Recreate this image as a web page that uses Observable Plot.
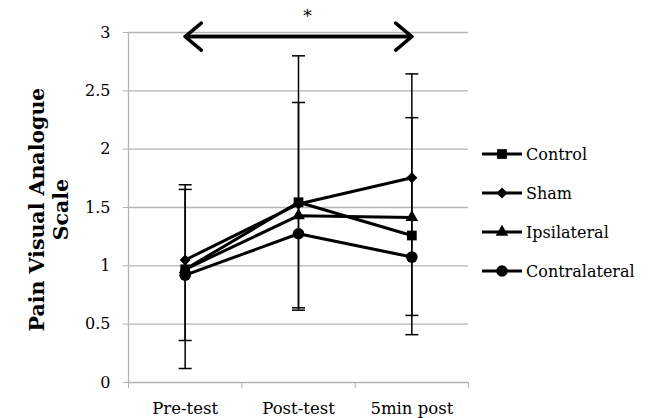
<!DOCTYPE html>
<html><head><meta charset="utf-8">
<script src="https://cdn.jsdelivr.net/npm/d3@7"></script>
<script src="https://cdn.jsdelivr.net/npm/@observablehq/plot@0.6"></script>
<style>
body{margin:0;background:#fff;}
#wrap{position:relative;width:648px;height:418px;overflow:hidden;}
#legend{position:absolute;left:482px;top:0;font-family:"DejaVu Serif",serif;font-size:16px;color:#000;}
.item{position:absolute;left:0;height:20px;display:flex;align-items:center;white-space:nowrap;}
.item svg{display:block;margin-right:4px;}
</style></head><body><div id="wrap"></div>
<script>
// ---- data ----
const categories = ["Pre-test", "Post-test", "5min post"];
const series = ["Control", "Sham", "Ipsilateral", "Contralateral"];
const control = [0.97, 1.545, 1.26];
const sham = [1.05, 1.53, 1.755];
const ipsilateral = [0.97, 1.43, 1.415];
const contralateral = [0.92, 1.275, 1.075];
// error bar extents (low, high) per category
const errALow = [0.12, 0.62, 0.41];
const errAHigh = [1.695, 2.80, 2.645];
const errBLow = [0.36, 0.64, 0.575];
const errBHigh = [1.655, 2.40, 2.27];
const yTicks = [0, 0.5, 1, 1.5, 2, 2.5, 3];
const yTitle = "Pain Visual Analogue\nScale";
const sigFrom = "Pre-test";
const sigTo = "5min post";
const sigY = 2.965;
const sigLabel = "*";

const values = [control, sham, ipsilateral, contralateral];
const symbols = ["square", "diamond2", "triangle", "circle"];
const sizes = [5.5, 5, 4.7, 5.8];

const rows = [];
series.forEach((s, k) => values[k].forEach((v, i) => rows.push({series: s, x: i + 0.5, value: v})));
const errRows = [];
categories.forEach((c, i) => {
  errRows.push({x: i + 0.5, lo: errALow[i], hi: errAHigh[i]});
  errRows.push({x: i + 0.5, lo: errBLow[i], hi: errBHigh[i]});
});
const capRows = errRows.flatMap(d => [{x: d.x, y: d.lo}, {x: d.x, y: d.hi}]);
const sig = [{x1: categories.indexOf(sigFrom) + 0.5, x2: categories.indexOf(sigTo) + 0.5, y: sigY, label: sigLabel}];

const cap = {draw(ctx) { ctx.moveTo(-6.5, 0); ctx.lineTo(6.5, 0); }};
const gray = "#b3b3b3";
const font = "DejaVu Serif";

const chart = Plot.plot({
  width: 648, height: 418,
  marginLeft: 128, marginRight: 180, marginTop: 32, marginBottom: 36,
  style: {fontFamily: font, background: "#fff", overflow: "visible"},
  x: {domain: [0, 3]},
  y: {domain: [0, 3]},
  marks: [
    Plot.ruleY(yTicks, {stroke: gray, strokeWidth: 1.3}),
    Plot.ruleX([0], {stroke: gray, strokeWidth: 1.3}),
    Plot.axisY({ticks: yTicks, tickSize: 5, tickPadding: 13, stroke: gray, fontSize: 16, fill: "#000", tickFormat: d => String(d), label: null}),
    Plot.axisX({ticks: [0, 1, 2, 3], tickSize: 6, stroke: gray, tickFormat: () => "", label: null}),
    Plot.axisX({ticks: categories.map((c, i) => i + 0.5), tickSize: 0, tickPadding: 20, fontSize: 16.5, fill: "#000", tickFormat: v => categories[Math.round(v - 0.5)], label: null}),
    Plot.text([yTitle], {frameAnchor: "left", textAnchor: "middle", lineAnchor: "middle", dx: -80, dy: 2, rotate: -90, fontSize: 20.5, fontWeight: "bold", lineHeight: 1.13, fill: "#000"}),
    Plot.ruleX(errRows, {x: "x", y1: "lo", y2: "hi", stroke: "#000", strokeWidth: 1.5}),
    Plot.dot(capRows, {x: "x", y: "y", symbol: cap, r: 5, stroke: "#000", strokeWidth: 1.5, fill: "none"}),
    Plot.line(rows, {x: "x", y: "value", z: "series", stroke: "#000", strokeWidth: 3}),
    ...series.map((s, k) => Plot.dot(rows.filter(d => d.series === s), {x: "x", y: "value", symbol: symbols[k], r: sizes[k], fill: "#000", stroke: "none"})),
    Plot.arrow(sig, {x1: "x1", x2: "x2", y1: "y", y2: "y", stroke: "#000", strokeWidth: 3.5, headLength: 9, headAngle: 80}),
    Plot.arrow(sig, {x1: "x2", x2: "x1", y1: "y", y2: "y", stroke: "#000", strokeWidth: 3.5, headLength: 9, headAngle: 80}),
    Plot.text(sig, {x: d => (d.x1 + d.x2) / 2, y: () => 3.14, text: "label", dx: 9, fontSize: 17, fill: "#000"})
  ]
});
const wrap = document.getElementById("wrap");
wrap.appendChild(chart);

// legend
const legend = document.createElement("div");
legend.id = "legend";
const rowY = [154, 193, 232, 271];
series.forEach((s, k) => {
  const item = document.createElement("div");
  item.className = "item";
  item.style.top = (rowY[k] - 10) + "px";
  const svg = d3.create("svg").attr("width", 40).attr("height", 20);
  svg.append("line").attr("x1", 0).attr("x2", 40).attr("y1", 10).attr("y2", 10).attr("stroke", "#000").attr("stroke-width", 3);
  const symMap = {square: d3.symbolSquare, diamond2: d3.symbolDiamond2, triangle: d3.symbolTriangle, circle: d3.symbolCircle};
  svg.append("path").attr("transform", "translate(20,10)").attr("d", d3.symbol(symMap[symbols[k]], Math.PI * sizes[k] * sizes[k])()).attr("fill", "#000");
  item.appendChild(svg.node());
  const t = document.createElement("span");
  t.textContent = s;
  item.appendChild(t);
  legend.appendChild(item);
});
wrap.appendChild(legend);
</script></body></html>
